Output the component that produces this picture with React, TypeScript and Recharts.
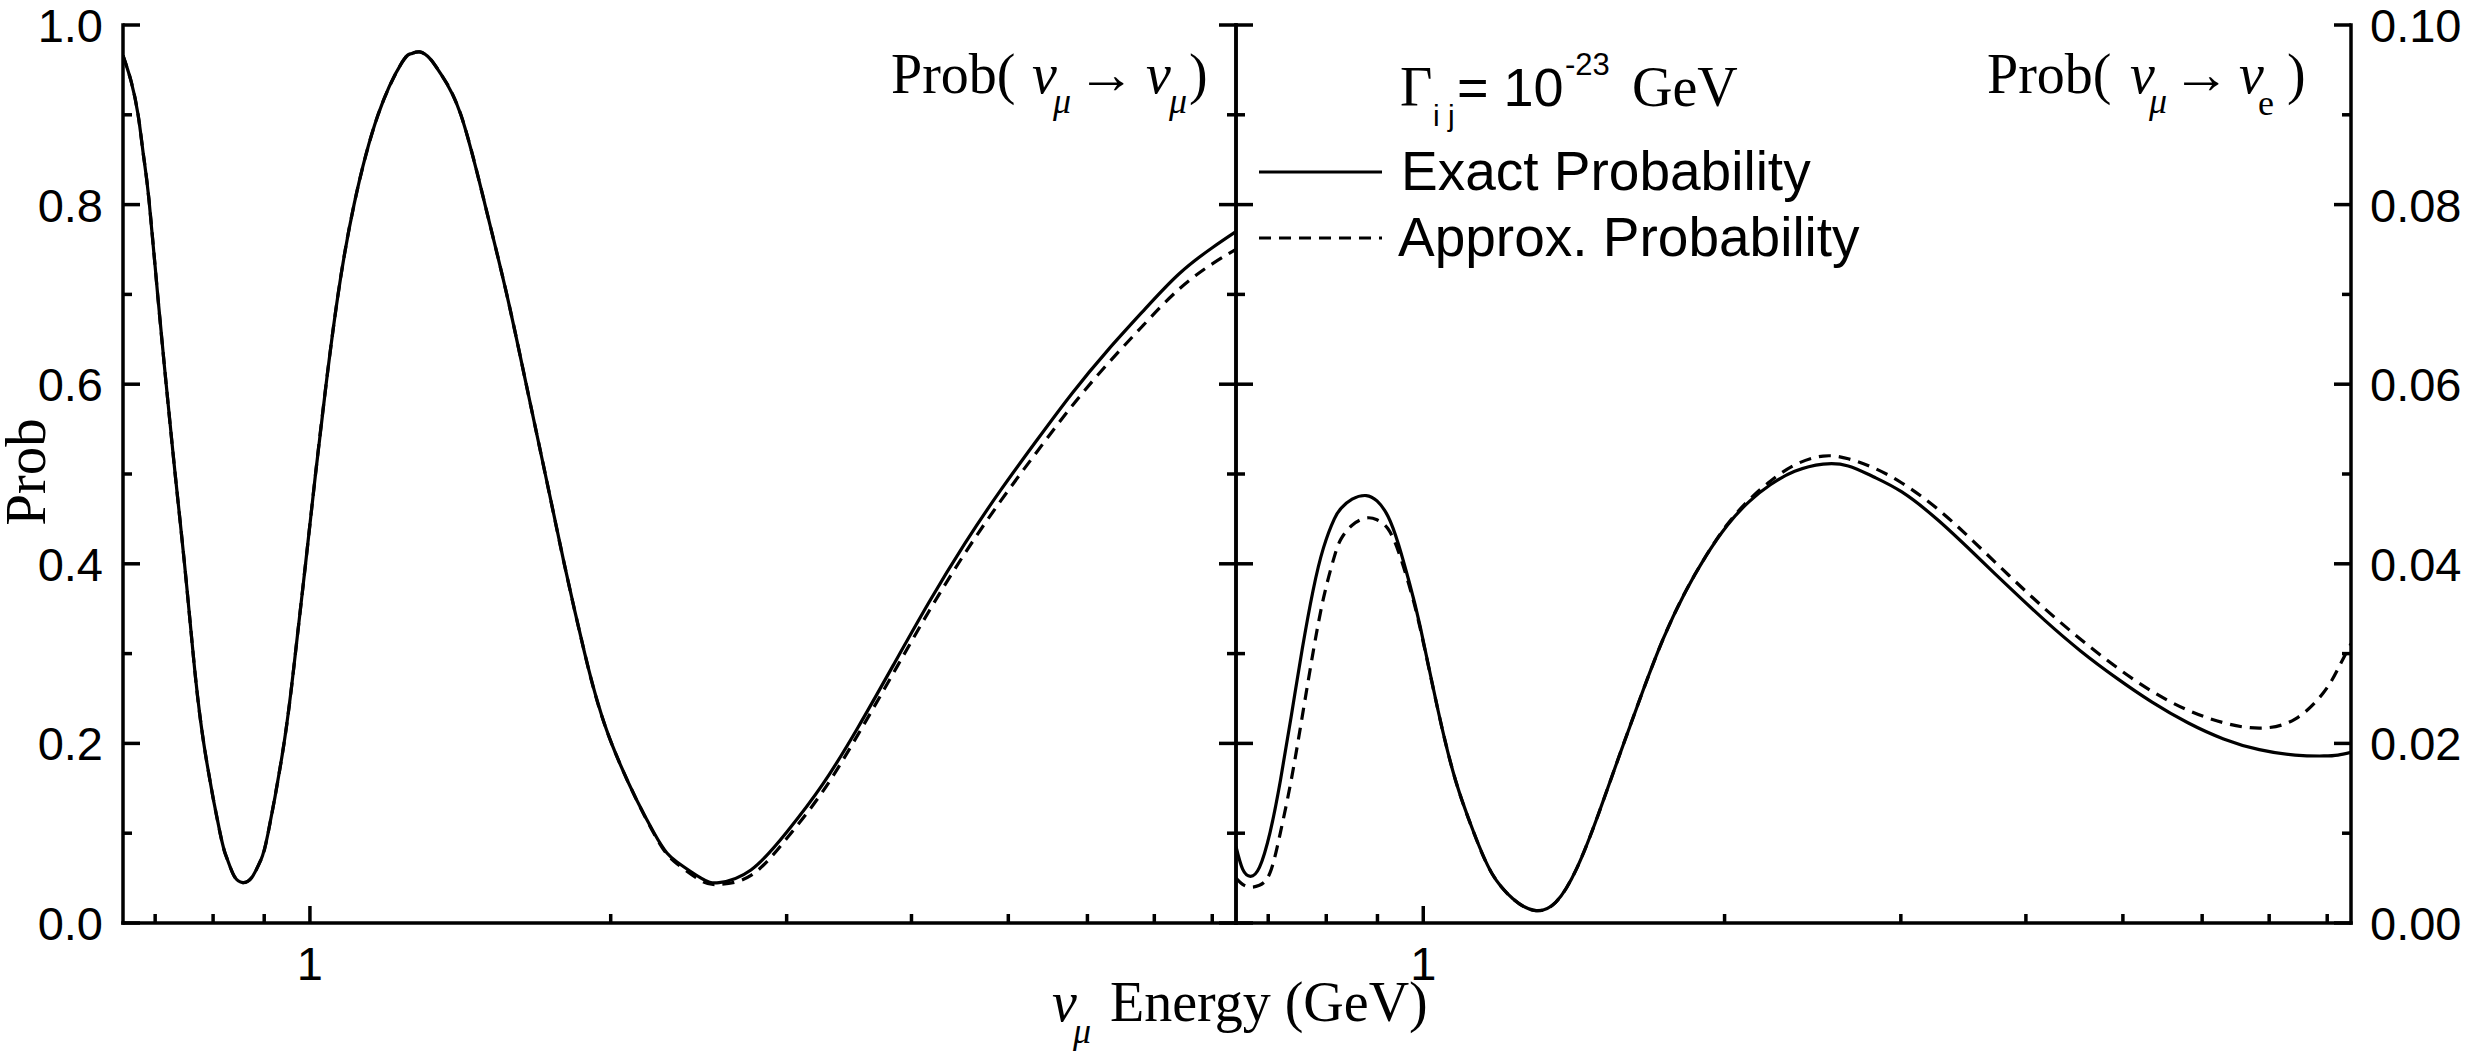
import React from 'react';
import { LineChart, Line, XAxis, YAxis, Legend } from 'recharts';

const SERIF = '"Liberation Serif", "Times New Roman", Times, serif';
const SANS = '"Liberation Sans", Arial, Helvetica, sans-serif';

// ---------- axes ----------
const E_DOMAIN = [0.65, 8.45];
const E_TICKS = [0.7, 0.8, 0.9, 1, 2, 3, 4, 5, 6, 7, 8];
const E_MAJOR = [1];
const LEFT_P_TICKS = [0, 0.1, 0.2, 0.3, 0.4, 0.5, 0.6, 0.7, 0.8, 0.9, 1.0];
const RIGHT_P_TICKS = [0, 0.01, 0.02, 0.03, 0.04, 0.05, 0.06, 0.07, 0.08, 0.09, 0.1];

// ---------- left panel: Prob(nu_mu -> nu_mu) ----------
const LEFT_E = [
  0.65, 0.662, 0.673, 0.681, 0.69, 0.704, 0.718, 0.733, 0.749, 0.764, 0.783, 0.813, 0.826, 0.84,
  0.857, 0.875, 0.893, 0.908, 0.942, 0.967, 0.99, 1.013, 1.038, 1.067, 1.107, 1.17, 1.236, 1.262,
  1.288, 1.32, 1.353, 1.416, 1.497, 1.574, 1.646, 1.72, 1.797, 1.884, 2.004, 2.211, 2.33, 2.463,
  2.567, 2.763, 3.0, 3.258, 3.537, 3.84, 4.169, 4.526, 4.913, 5.335, 5.793, 6.29, 6.829, 7.413, 8.0, 8.45,
];
const LEFT_EXACT = [
  0.966, 0.938, 0.9, 0.857, 0.806, 0.7, 0.6, 0.5, 0.4, 0.3, 0.2, 0.1, 0.072, 0.052,
  0.045, 0.051, 0.07, 0.1, 0.2, 0.3, 0.4, 0.5, 0.6, 0.7, 0.8, 0.9, 0.958, 0.968,
  0.97, 0.962, 0.945, 0.9, 0.8, 0.7, 0.6, 0.5, 0.4, 0.3, 0.2, 0.1, 0.068, 0.05,
  0.045, 0.059, 0.101, 0.154, 0.218, 0.288, 0.358, 0.423, 0.482, 0.537, 0.59, 0.638, 0.682, 0.723, 0.752, 0.77,
];
const LEFT_APPROX = [
  0.966, 0.938, 0.9, 0.857, 0.806, 0.7, 0.6, 0.5, 0.4, 0.3, 0.2, 0.1, 0.072, 0.052,
  0.045, 0.051, 0.07, 0.1, 0.2, 0.3, 0.4, 0.5, 0.6, 0.7, 0.8, 0.9, 0.958, 0.968,
  0.97, 0.962, 0.945, 0.9, 0.8, 0.7, 0.6, 0.5, 0.4, 0.3, 0.2, 0.099, 0.066, 0.047,
  0.043, 0.053, 0.094, 0.146, 0.21, 0.279, 0.348, 0.412, 0.47, 0.524, 0.576, 0.623, 0.666, 0.706, 0.734, 0.75,
];

// ---------- right panel: Prob(nu_mu -> nu_e) ----------
const RIGHT_E = [
  0.65, 0.66, 0.672, 0.686, 0.703, 0.72, 0.738, 0.757, 0.776, 0.795, 0.815, 0.828, 0.849, 0.877,
  0.899, 0.922, 0.945, 0.968, 0.993, 1.034, 1.077, 1.123, 1.17, 1.229, 1.291, 1.356, 1.425,
  1.497, 1.573, 1.653, 1.736, 1.824, 1.917, 2.013, 2.115, 2.222, 2.35, 2.509, 2.658, 2.816,
  3.007, 3.265, 3.545, 3.848, 4.178, 4.536, 4.925, 5.347, 5.806, 6.303, 6.843, 7.43, 7.937, 8.2, 8.45,
];
const RIGHT_EXACT = [
  0.0085, 0.006, 0.0052, 0.0062, 0.0101, 0.0159, 0.023, 0.0305, 0.037, 0.0418, 0.045, 0.0462, 0.0472, 0.0476,
  0.047, 0.0453, 0.0421, 0.038, 0.033, 0.0238, 0.0159, 0.0101, 0.0056, 0.0027, 0.0014, 0.0023, 0.0062,
  0.0122, 0.0189, 0.0255, 0.0316, 0.0367, 0.0409, 0.0443, 0.0469, 0.0488, 0.0503, 0.0511, 0.0509, 0.0497,
  0.048, 0.0449, 0.0412, 0.0374, 0.0337, 0.0303, 0.0273, 0.0246, 0.0223, 0.0205, 0.0193, 0.0187, 0.0186, 0.0187, 0.019,
];
const RIGHT_APPROX = [
  0.005, 0.0043, 0.004, 0.0042, 0.0056, 0.0101, 0.0159, 0.023, 0.0301, 0.0362, 0.0408, 0.0428, 0.0443, 0.0451,
  0.0449, 0.0439, 0.0413, 0.0376, 0.0328, 0.0238, 0.0159, 0.0101, 0.0056, 0.0027, 0.0014, 0.0023, 0.0062,
  0.0122, 0.0189, 0.0255, 0.0316, 0.0367, 0.0409, 0.0444, 0.0471, 0.0492, 0.051, 0.052, 0.0517, 0.0507,
  0.049, 0.0461, 0.0425, 0.0387, 0.035, 0.0316, 0.0285, 0.0258, 0.0237, 0.0223, 0.0217, 0.0227, 0.0257, 0.0283, 0.0311,
];

const SERIES_NAMES = ['Exact Probability', 'Approx. Probability'];

const toRows = (xs: number[], ys: number[]) => xs.map((E, i) => ({ E, p: ys[i] }));
const leftExact = toRows(LEFT_E, LEFT_EXACT);
const leftApprox = toRows(LEFT_E, LEFT_APPROX);
const rightExact = toRows(RIGHT_E, RIGHT_EXACT);
const rightApprox = toRows(RIGHT_E, RIGHT_APPROX);

// ---------- style ----------
const INK = '#000';
const AXW = 3.5;
const MAJ = 17;
const MIN = 9;
const TICK_FS = 47;
const LINE_W = 3.2;
const DASH = '12 8';
const CURVE = 'natural' as const;
const axisLine = { stroke: INK, strokeWidth: AXW, strokeLinecap: 'square' as const };

const isMajorP = (v: number, step: number) => Math.round(v / step) % 2 === 0;

function BottomTick(props: any) {
  const { x, y, payload } = props;
  const v = payload.value;
  const major = E_MAJOR.includes(v);
  return (
    <g>
      <line x1={x} y1={y} x2={x} y2={y - (major ? MAJ : MIN)} stroke={INK} strokeWidth={AXW} />
      {major && (
        <text x={x} y={y + 57} textAnchor="middle" fontFamily={SANS} fontSize={TICK_FS} fill={INK}>
          {String(v)}
        </text>
      )}
    </g>
  );
}

function TopTick(props: any) {
  const { x, y, payload } = props;
  const major = E_MAJOR.includes(payload.value);
  return <line x1={x} y1={y} x2={x} y2={y + (major ? MAJ : MIN)} stroke={INK} strokeWidth={AXW} />;
}

function makeYTick(dir: 1 | -1, step: number, digits: number, withLabel: boolean) {
  return function YTick(props: any) {
    const { x, y, payload } = props;
    const v = payload.value;
    const major = isMajorP(v, step);
    const len = major ? MAJ : MIN;
    return (
      <g>
        <line x1={x} y1={y} x2={x + dir * len} y2={y} stroke={INK} strokeWidth={AXW} />
        {withLabel && major && (
          <text
            x={dir === 1 ? x - 20 : x + 19}
            y={y}
            dy="0.36em"
            textAnchor={dir === 1 ? 'end' : 'start'}
            fontFamily={SANS}
            fontSize={TICK_FS}
            fill={INK}
          >
            {v.toFixed(digits)}
          </text>
        )}
      </g>
    );
  };
}

const LeftMainTick = makeYTick(1, 0.1, 1, true);
const LeftMidTick = makeYTick(-1, 0.1, 1, false);
const RightMidTick = makeYTick(1, 0.01, 2, false);
const RightMainTick = makeYTick(-1, 0.01, 2, true);

const xAxes = [
  <XAxis
    key="bot"
    xAxisId="bot"
    dataKey="E"
    type="number"
    scale="log"
    domain={E_DOMAIN}
    allowDataOverflow
    ticks={E_TICKS}
    interval={0}
    height={132}
    tickSize={0}
    tickMargin={0}
    tickLine={false}
    axisLine={axisLine}
    tick={BottomTick}
  />,
  <XAxis
    key="top"
    xAxisId="top"
    dataKey="E"
    type="number"
    scale="log"
    orientation="top"
    domain={E_DOMAIN}
    allowDataOverflow
    ticks={E_TICKS}
    interval={0}
    height={0}
    tickSize={0}
    tickMargin={0}
    tickLine={false}
    axisLine={axisLine}
    tick={TopTick}
  />,
];

function LegendBox(props: any) {
  const items = [...(props.payload || [])].sort(
    (a: any, b: any) => SERIES_NAMES.indexOf(a.value) - SERIES_NAMES.indexOf(b.value)
  );
  const rows = [172, 238];
  const textX = [201, 198];
  return (
    <svg width={1269} height={300} style={{ overflow: 'visible', display: 'block' }}>
      {items.map((it: any, i: number) => (
        <g key={i}>
          <line
            x1={59}
            x2={182}
            y1={rows[i]}
            y2={rows[i]}
            stroke={INK}
            strokeWidth={LINE_W}
            strokeDasharray={i === 1 ? DASH : undefined}
          />
          <text x={textX[i]} y={rows[i] + 18} fontFamily={SANS} fontSize={55} fill={INK}>
            {it.value}
          </text>
        </g>
      ))}
    </svg>
  );
}

function Sub({ x, y, size, italic, len, children }: any) {
  return (
    <text
      x={x}
      y={y}
      fontFamily={SERIF}
      fontSize={size}
      fontStyle={italic ? 'italic' : 'normal'}
      fill={INK}
      textLength={len}
      lengthAdjust={len ? 'spacingAndGlyphs' : undefined}
    >
      {children}
    </text>
  );
}

export default function App() {
  return (
    <div style={{ position: 'absolute', left: 0, top: 0, width: 2469, height: 1055, background: '#fff' }}>
      <div style={{ position: 'absolute', left: 0, top: 0 }}>
        <LineChart width={1260} height={1055} margin={{ top: 25, right: 0, bottom: 0, left: 0 }}>
          {xAxes}
          <YAxis
            yAxisId="main"
            type="number"
            domain={[0, 1]}
            allowDataOverflow
            ticks={LEFT_P_TICKS}
            interval={0}
            width={123}
            tickSize={0}
            tickMargin={0}
            tickLine={false}
            axisLine={axisLine}
            tick={LeftMainTick}
          />
          <YAxis
            yAxisId="mid"
            orientation="right"
            type="number"
            domain={[0, 1]}
            allowDataOverflow
            ticks={LEFT_P_TICKS}
            interval={0}
            width={24}
            tickSize={0}
            tickMargin={0}
            tickLine={false}
            axisLine={axisLine}
            tick={LeftMidTick}
          />
          <Line
            xAxisId="bot"
            yAxisId="main"
            data={leftExact}
            dataKey="p"
            name={SERIES_NAMES[0]}
            type={CURVE}
            stroke={INK}
            strokeWidth={LINE_W}
            dot={false}
            activeDot={false}
            isAnimationActive={false}
          />
          <Line
            xAxisId="bot"
            yAxisId="main"
            data={leftApprox}
            dataKey="p"
            name={SERIES_NAMES[1]}
            type={CURVE}
            stroke={INK}
            strokeWidth={LINE_W}
            strokeDasharray={DASH}
            dot={false}
            activeDot={false}
            isAnimationActive={false}
          />
        </LineChart>
      </div>

      <div style={{ position: 'absolute', left: 1200, top: 0 }}>
        <LineChart width={1269} height={1055} margin={{ top: 25, right: 0, bottom: 0, left: 0 }}>
          {xAxes}
          <YAxis
            yAxisId="mid"
            type="number"
            domain={[0, 0.1]}
            allowDataOverflow
            ticks={RIGHT_P_TICKS}
            interval={0}
            width={36}
            tickSize={0}
            tickMargin={0}
            tickLine={false}
            axisLine={axisLine}
            tick={RightMidTick}
          />
          <YAxis
            yAxisId="main"
            orientation="right"
            type="number"
            domain={[0, 0.1]}
            allowDataOverflow
            ticks={RIGHT_P_TICKS}
            interval={0}
            width={118}
            tickSize={0}
            tickMargin={0}
            tickLine={false}
            axisLine={axisLine}
            tick={RightMainTick}
          />
          <Legend
            layout="horizontal"
            verticalAlign="middle"
            align="center"
            content={LegendBox}
            wrapperStyle={{ left: 0, top: 0, width: 1269, height: 300 }}
          />
          <Line
            xAxisId="bot"
            yAxisId="main"
            data={rightExact}
            dataKey="p"
            name={SERIES_NAMES[0]}
            type={CURVE}
            stroke={INK}
            strokeWidth={LINE_W}
            dot={false}
            activeDot={false}
            isAnimationActive={false}
          />
          <Line
            xAxisId="bot"
            yAxisId="main"
            data={rightApprox}
            dataKey="p"
            name={SERIES_NAMES[1]}
            type={CURVE}
            stroke={INK}
            strokeWidth={LINE_W}
            strokeDasharray={DASH}
            dot={false}
            activeDot={false}
            isAnimationActive={false}
          />
        </LineChart>
      </div>

      <svg
        width={2469}
        height={1055}
        style={{ position: 'absolute', left: 0, top: 0, pointerEvents: 'none' }}
      >
        {/* y-axis title */}
        <text
          transform="translate(45,472) rotate(-90)"
          textAnchor="middle"
          fontFamily={SERIF}
          fontSize={57}
          fill={INK}
        >
          Prob
        </text>

        {/* x-axis title */}
        <Sub x={1052} y={1021} size={56} italic>ν</Sub>
        <Sub x={1073} y={1043} size={36} italic>μ</Sub>
        <Sub x={1110} y={1021} size={56}>Energy (GeV)</Sub>

        {/* left panel label */}
        <Sub x={891} y={93} size={56}>Prob(</Sub>
        <Sub x={1032} y={93} size={56} italic>ν</Sub>
        <Sub x={1053} y={113} size={36} italic>μ</Sub>
        <Sub x={1077} y={93} size={56} len={58}>→</Sub>
        <Sub x={1146} y={93} size={56} italic>ν</Sub>
        <Sub x={1169} y={113} size={36} italic>μ</Sub>
        <Sub x={1189} y={93} size={56}>)</Sub>

        {/* right panel label */}
        <Sub x={1987} y={93} size={56}>Prob(</Sub>
        <Sub x={2130} y={93} size={56} italic>ν</Sub>
        <Sub x={2149} y={113} size={36} italic>μ</Sub>
        <Sub x={2172} y={93} size={56} len={58}>→</Sub>
        <Sub x={2239} y={93} size={56} italic>ν</Sub>
        <Sub x={2258} y={115} size={36}>e</Sub>
        <Sub x={2287} y={93} size={56}>)</Sub>

        {/* decay parameter */}
        <Sub x={1400} y={106} size={56}>Γ</Sub>
        <text x={1433} y={126} fontFamily={SANS} fontSize={30} fill={INK}>i j</text>
        <text x={1457} y={106} fontFamily={SANS} fontSize={54} fill={INK}>= 10</text>
        <text x={1565} y={75} fontFamily={SANS} fontSize={31} fill={INK}>-23</text>
        <Sub x={1632} y={106} size={56}>GeV</Sub>
      </svg>
    </div>
  );
}
